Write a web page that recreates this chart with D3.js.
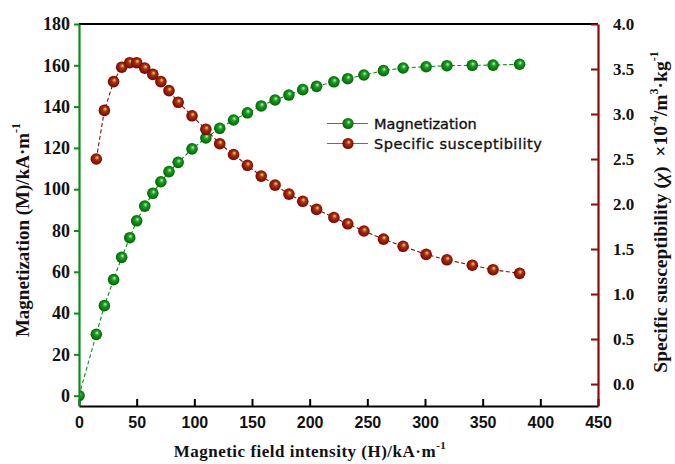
<!DOCTYPE html>
<html><head><meta charset="utf-8">
<script src="https://cdn.jsdelivr.net/npm/d3@7"></script>
<style>body{margin:0;background:#fff}svg{display:block}</style>
</head><body>
<svg id="c" width="675" height="464"></svg>
<script>
const fieldH = [0, 15, 22, 30, 37, 44, 50, 57, 64, 71, 78, 86, 98, 110, 122, 134, 146, 158, 170, 182, 194, 206, 221, 233, 247, 264, 281, 301, 319, 341, 359, 382];
const magnetization = [0, 29.7, 43.6, 56.2, 67, 76.5, 84.7, 91.8, 98, 103.6, 108.5, 113, 119.5, 124.8, 129.5, 133.5, 137, 140.3, 143.2, 145.6, 148.2, 149.8, 152, 153.5, 155.3, 157.4, 158.7, 159.3, 159.8, 160, 160.1, 160.5];
const suscH = [15, 22, 30, 37, 44, 50, 57, 64, 71, 78, 86, 98, 110, 122, 134, 146, 158, 170, 182, 194, 206, 221, 233, 247, 264, 281, 301, 319, 341, 359, 382];
const susceptibility = [2.50, 3.04, 3.36, 3.52, 3.57, 3.57, 3.51, 3.44, 3.36, 3.26, 3.13, 2.98, 2.83, 2.67, 2.55, 2.43, 2.31, 2.21, 2.11, 2.03, 1.94, 1.85, 1.78, 1.70, 1.61, 1.53, 1.44, 1.38, 1.32, 1.27, 1.23];
const xTicks = [0, 50, 100, 150, 200, 250, 300, 350, 400, 450];
const yLeftTicks = [0, 20, 40, 60, 80, 100, 120, 140, 160, 180];
const yRightTicks = [0, 0.5, 1.0, 1.5, 2.0, 2.5, 3.0, 3.5, 4.0];
const seriesNames = ["Magnetization", "Specific susceptibility"];

const svg = d3.select("#c");
const L = 79, R = 598, T = 24, B = 406;
const x = d3.scaleLinear().domain([0, 450]).range([L, R]);
const yL = d3.scaleLinear().domain([-5, 180]).range([B, T]);
const yR = d3.scaleLinear().domain([-0.244, 4.0]).range([B, T]);

const GREEN = "#0e8a16", RED = "#8b0a0a";
const defs = svg.append("defs");
function grad(id, hi, mid, lo) {
  const g = defs.append("radialGradient").attr("id", id)
    .attr("cx", "0.5").attr("cy", "0.5").attr("r", "0.55").attr("fx", "0.58").attr("fy", "0.35");
  g.append("stop").attr("offset", "0").attr("stop-color", hi);
  g.append("stop").attr("offset", "0.35").attr("stop-color", mid);
  g.append("stop").attr("offset", "1").attr("stop-color", lo);
}
grad("gG", "#c8f0c0", "#17a020", "#005a00");
grad("gR", "#f4e060", "#b03010", "#6a0000");
defs.append("clipPath").attr("id", "clip").append("rect")
  .attr("x", L).attr("y", T).attr("width", R - L).attr("height", B - T);

const plot = svg.append("g").attr("clip-path", "url(#clip)");
const magData = fieldH.map((h, i) => [h, magnetization[i]]);
const susData = suscH.map((h, i) => [h, susceptibility[i]]);

plot.append("path").datum(magData)
  .attr("d", d3.line().x(d => x(d[0])).y(d => yL(d[1])))
  .attr("fill", "none").attr("stroke", GREEN).attr("stroke-width", 1.1).attr("stroke-dasharray", "4,2.5");
plot.append("path").datum(susData)
  .attr("d", d3.line().x(d => x(d[0])).y(d => yR(d[1])))
  .attr("fill", "none").attr("stroke", RED).attr("stroke-width", 1.1).attr("stroke-dasharray", "4,2.5");

plot.selectAll(".mg").data(magData).enter().append("circle")
  .attr("cx", d => x(d[0])).attr("cy", d => yL(d[1])).attr("r", 5.8).attr("fill", "url(#gG)");
plot.selectAll(".su").data(susData).enter().append("circle")
  .attr("cx", d => x(d[0])).attr("cy", d => yR(d[1])).attr("r", 5.8).attr("fill", "url(#gR)");

// top frame
svg.append("line").attr("x1", L).attr("x2", R).attr("y1", T).attr("y2", T).attr("stroke", "#000").attr("stroke-width", 2);

// bottom axis
const xa = svg.append("g").attr("transform", `translate(0,${B})`)
  .call(d3.axisBottom(x).tickValues(xTicks).tickSize(-7).tickPadding(12).tickSizeOuter(0));
xa.select(".domain").attr("stroke", "#000").attr("stroke-width", 2.2);
xa.selectAll(".tick line").attr("stroke", "#000").attr("stroke-width", 2);
xa.selectAll(".tick text").attr("font-family", "Liberation Sans, Arial, sans-serif").attr("font-weight", "bold")
  .attr("font-size", 16).attr("fill", "#111").attr("dy", "0.6em");

// left axis
const la = svg.append("g").attr("transform", `translate(${L},0)`)
  .call(d3.axisLeft(yL).tickValues(yLeftTicks).tickSize(5).tickPadding(4).tickSizeOuter(0));
la.select(".domain").attr("stroke", GREEN).attr("stroke-width", 2.2);
la.selectAll(".tick line").attr("stroke", GREEN).attr("stroke-width", 2);
la.selectAll(".tick text").attr("font-family", "Liberation Serif, Times New Roman, serif").attr("font-weight", "bold")
  .attr("font-size", 18).attr("fill", "#111");

// right axis
const ra = svg.append("g").attr("transform", `translate(${R},0)`)
  .call(d3.axisRight(yR).tickValues(yRightTicks).tickFormat(d3.format(".1f")).tickSize(-7).tickPadding(15).tickSizeOuter(0));
ra.select(".domain").attr("stroke", RED).attr("stroke-width", 2.2);
ra.selectAll(".tick line").attr("stroke", RED).attr("stroke-width", 2);
ra.selectAll(".tick text").attr("font-family", "Liberation Serif, Times New Roman, serif").attr("font-weight", "bold")
  .attr("font-size", 17).attr("fill", "#111");

const serif = "Liberation Serif, Times New Roman, serif";
// x title
const xt = svg.append("text").attr("x", 310).attr("y", 457).attr("text-anchor", "middle")
  .attr("font-family", serif).attr("font-weight", "bold").attr("font-size", 17).attr("fill", "#111")
  .attr("letter-spacing", "0.5");
xt.append("tspan").text("Magnetic field intensity (H)/kA·m");
xt.append("tspan").attr("font-size", 11).attr("dy", -8).text("-1");

// left title
const lt = svg.append("text").attr("transform", "translate(29,230) rotate(-90)").attr("text-anchor", "middle")
  .attr("font-family", serif).attr("font-weight", "bold").attr("font-size", 19).attr("fill", "#111");
lt.append("tspan").text("Magnetization (M)/kA·m");
lt.append("tspan").attr("font-size", 12).attr("dy", -9).text("-1");

// right title
const rt = svg.append("text").attr("transform", "translate(667,212) rotate(-90)").attr("text-anchor", "middle")
  .attr("font-family", serif).attr("font-weight", "bold").attr("font-size", 19.5).attr("fill", "#111")
  .attr("xml:space", "preserve");
rt.append("tspan").text("Specific susceptibility (");
rt.append("tspan").attr("font-style", "italic").text("χ");
rt.append("tspan").text(")  ×10");
rt.append("tspan").attr("font-size", 12).attr("dy", -9).text("-4");
rt.append("tspan").attr("dy", 9).text("/m");
rt.append("tspan").attr("font-size", 12).attr("dy", -9).text("3");
rt.append("tspan").attr("dy", 9).text("·kg");
rt.append("tspan").attr("font-size", 12).attr("dy", -9).text("-1");

// legend
const leg = svg.append("g");
const legColors = [GREEN, RED], legFill = ["url(#gG)", "url(#gR)"], legY = [123.5, 143.5];
seriesNames.forEach((n, i) => {
  leg.append("line").attr("x1", 327).attr("x2", 368).attr("y1", legY[i]).attr("y2", legY[i])
    .attr("stroke", legColors[i]).attr("stroke-width", 1.2).attr("opacity", i ? 0.7 : 0.9);
  leg.append("circle").attr("cx", 348).attr("cy", legY[i]).attr("r", 5.6).attr("fill", legFill[i]);
  leg.append("text").attr("x", 374).attr("y", legY[i]).attr("dy", "0.35em")
    .attr("font-family", "DejaVu Sans, Verdana, sans-serif").attr("font-size", 14.5).attr("fill", "#111")
    .attr("stroke", "#111").attr("stroke-width", 0.35)
    .attr("letter-spacing", i ? "0.5" : "0").text(n);
});
</script>
</body></html>
